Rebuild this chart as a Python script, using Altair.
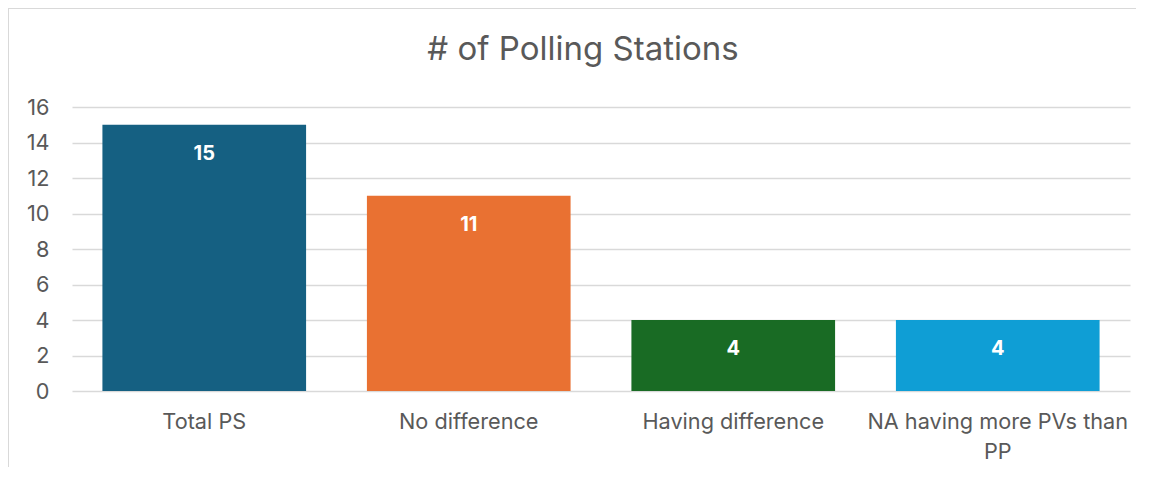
import altair as alt
import pandas as pd

categories = ["Total PS", "No difference", "Having difference", "NA having more PVs than PP"]
values = [15, 11, 4, 4]
colors = ["#156082", "#E97132", "#196B24", "#0F9ED5"]
y_ticks = [0, 2, 4, 6, 8, 10, 12, 14, 16]
wrapped = {"NA having more PVs than PP": ["NA having more PVs than", "PP"]}

df = pd.DataFrame({"category": categories, "value": values})

label_expr = "datum.label"
for k, v in wrapped.items():
    label_expr = f"datum.label == '{k}' ? {v!r} : " + label_expr

FONT = "Inter"
GRAY = "#595959"

x = alt.X("category:N", sort=categories, title=None,
          scale=alt.Scale(paddingInner=0.23, paddingOuter=0.115),
          axis=alt.Axis(labelAngle=0, labelFontSize=21.7, labelColor=GRAY, labelFont=FONT,
                        labelPadding=20, labelLineHeight=30, ticks=False, domain=False,
                        labelExpr=label_expr, labelLimit=400, grid=False))
y = alt.Y("value:Q", title=None,
          scale=alt.Scale(domain=[0, 16], nice=False),
          axis=alt.Axis(values=y_ticks, labelFontSize=21.7, labelColor=GRAY, labelFont=FONT,
                        labelPadding=23, ticks=False, domain=False, labelOverlap=False,
                        gridColor="#d9d9d9", gridWidth=1.3))

bars = alt.Chart(df).mark_bar().encode(
    x=x, y=y,
    color=alt.Color("category:N", sort=categories,
                    scale=alt.Scale(domain=categories, range=colors), legend=None),
)

labels = alt.Chart(df).mark_text(color="white", fontWeight="bold", fontSize=20, font=FONT,
                                 baseline="middle", dy=29).encode(
    x=x, y=y,
    text="value:Q",
)

border_left = alt.Chart(df).mark_rule(color="#d9d9d9", strokeWidth=2).encode(
    x=alt.value(-64), y=alt.value(-99), y2=alt.value(400))
border_top = alt.Chart(df).mark_rule(color="#d9d9d9", strokeWidth=2).encode(
    x=alt.value(-64), x2=alt.value(1080), y=alt.value(-99))

chart = alt.layer(bars, labels, border_left, border_top).properties(
    width=1058, height=284,
    title=alt.TitleParams("# of Polling Stations", anchor="middle", frame="group", dx=-18,
                          offset=0, dy=86, baseline="alphabetic",
                          fontSize=33, font=FONT, color=GRAY, fontWeight="normal"),
    autosize=alt.AutoSizeParams(type="none"),
    padding={"left": 64, "top": 99, "right": 6, "bottom": 76},
    background="white",
).configure_view(strokeWidth=0)

chart.save("out.html", embed_options={"renderer": "svg", "actions": False})
